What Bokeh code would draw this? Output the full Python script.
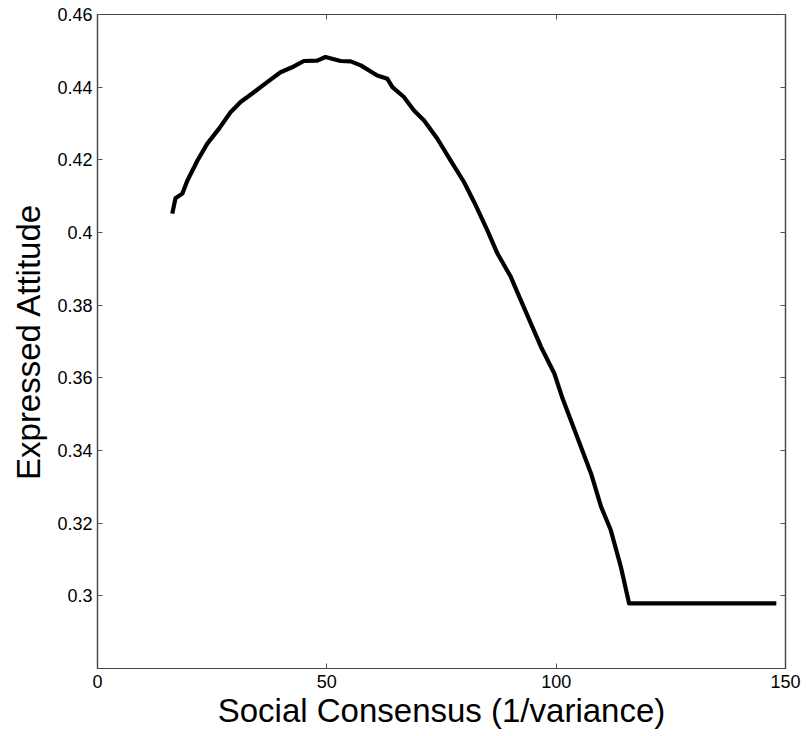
from bokeh.plotting import figure
from bokeh.models import LinearAxis, FixedTicker, Range1d
from bokeh.embed import file_html
from bokeh.resources import INLINE

# Expressed attitude as a function of social consensus (1/variance)
consensus = [16.3, 17.0, 18.5, 19.6, 21.8, 23.9, 26.5, 29.0, 31.2, 34.1,
             37.0, 39.9, 42.8, 45.0, 47.9, 49.7, 53.0, 55.2, 57.4, 61.0,
             63.2, 64.3, 66.8, 69.0, 71.2, 74.1, 77.0, 79.9, 82.1, 85.0,
             87.2, 90.1, 92.3, 94.5, 96.7, 99.6, 101.4, 103.2, 107.6, 109.8,
             111.9, 114.1, 115.9, 148.0]
attitude = [0.4052, 0.4094, 0.4107, 0.4143, 0.4198, 0.4244, 0.4286, 0.4331, 0.4359, 0.4386,
            0.4414, 0.4441, 0.4457, 0.4472, 0.4473, 0.4483, 0.4472, 0.4471, 0.4460, 0.4432,
            0.4423, 0.4400, 0.4373, 0.4336, 0.4308, 0.4258, 0.4198, 0.4139, 0.4084, 0.4006,
            0.3942, 0.3878, 0.3813, 0.3749, 0.3685, 0.3612, 0.3543, 0.3483, 0.3337, 0.3245,
            0.3181, 0.3080, 0.2979, 0.2979]

x_ticks = [0, 50, 100, 150]
x_tick_labels = ["0", "50", "100", "150"]
y_ticks = [0.30, 0.32, 0.34, 0.36, 0.38, 0.40, 0.42, 0.44, 0.46]
y_tick_labels = ["0.3", "0.32", "0.34", "0.36", "0.38", "0.4", "0.42", "0.44", "0.46"]

FONT = "Liberation Sans"

p = figure(width=806, height=736, output_backend="svg", toolbar_location=None,
           x_range=Range1d(0, 150), y_range=Range1d(0.28, 0.46),
           x_axis_label="Social Consensus (1/variance)",
           y_axis_label="Expressed Attitude",
           min_border_left=97, min_border_right=21,
           min_border_top=14, min_border_bottom=68)

p.line(consensus, attitude, line_color="black", line_width=4.2, line_join="round")

p.grid.visible = False
p.outline_line_color = "#222222"
p.outline_line_width = 1.2
p.background_fill_color = "white"
p.border_fill_color = "white"

xt = FixedTicker(ticks=x_ticks)
yt = FixedTicker(ticks=y_ticks)

def style(ax, ticker, labels=None):
    ax.ticker = ticker
    ax.major_tick_in = 5
    ax.major_tick_out = 0
    ax.minor_tick_line_color = None
    ax.major_tick_line_color = "#555555"
    ax.axis_line_color = "#444444"
    ax.axis_line_width = 1.2
    if labels is None:
        # mirrored box axis: ticks only, labels are not painted
        ax.major_label_text_color = None
        ax.major_label_text_font_size = "1px"
        ax.major_label_standoff = 0
    else:
        ax.major_label_overrides = labels
        ax.major_label_text_font = FONT
        ax.major_label_text_font_size = "18px"
        ax.major_label_text_color = "black"

style(p.xaxis[0], xt, dict(zip(x_ticks, x_tick_labels)))
style(p.yaxis[0], yt, dict(zip(y_ticks, y_tick_labels)))
p.xaxis[0].major_label_standoff = 6
p.yaxis[0].major_label_standoff = 5

for ax in (p.xaxis[0], p.yaxis[0]):
    ax.axis_label_text_font = FONT
    ax.axis_label_text_font_size = "33px"
    ax.axis_label_text_font_style = "normal"
    ax.axis_label_text_color = "black"
p.xaxis[0].axis_label_standoff = 1
p.yaxis[0].axis_label_standoff = 7

right = LinearAxis()
style(right, yt)
p.add_layout(right, "right")
top = LinearAxis()
style(top, xt)
p.add_layout(top, "above")

open("out.html", "w").write(file_html(p, INLINE))
